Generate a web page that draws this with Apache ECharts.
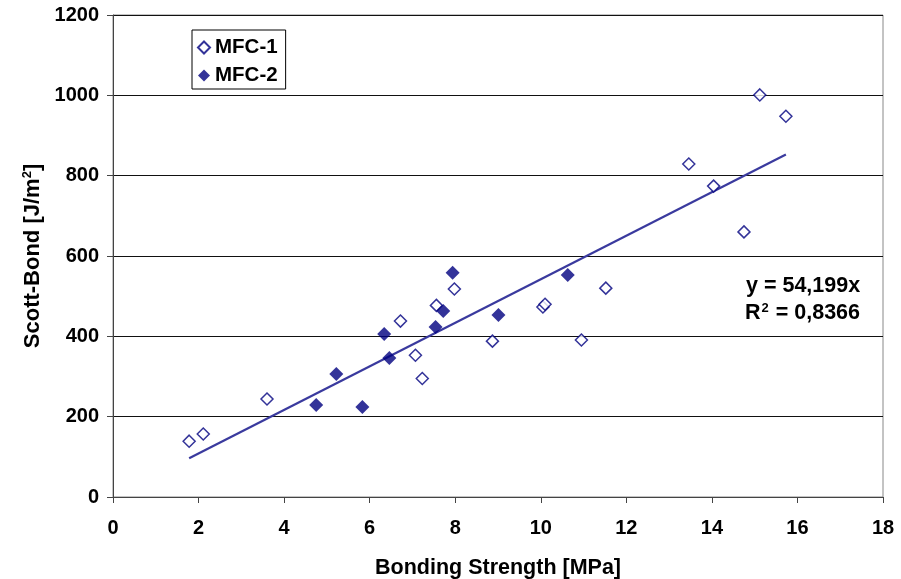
<!DOCTYPE html>
<html>
<head>
<meta charset="utf-8">
<script src="https://cdn.jsdelivr.net/npm/echarts@6/dist/echarts.min.js"></script>
<style>html,body{margin:0;padding:0;background:#fff}#c{width:901px;height:579px}</style>
</head>
<body>
<div id="c"></div>
<script>
const mfc1X = [1.78, 2.11, 3.6, 6.72, 7.07, 7.23, 7.56, 7.98, 8.87, 10.05, 10.1, 10.95, 11.52, 13.46, 14.04, 14.75, 15.12, 15.73];
const mfc1Y = [139, 157, 244, 438, 353, 295, 477, 518, 388, 473, 480, 391, 520, 829, 774, 660, 1001, 948];
const mfc2X = [4.75, 5.22, 5.83, 6.34, 6.46, 7.54, 7.72, 7.94, 9.01, 10.63];
const mfc2Y = [229, 306, 224, 406, 346, 423, 463, 558, 453, 553];
const slope = 54.199;
const slopeText = '54,199';
const r2Text = '0,8366';

const allX = mfc1X.concat(mfc2X);
const xMin = Math.min(...allX), xMax = Math.max(...allX);
const trend = [[xMin, slope * xMin], [xMax, slope * xMax]];

const font = 'Arial, "Liberation Sans", sans-serif';
const tickFont = { fontFamily: font, fontWeight: 'bold', fontSize: 20, color: '#000' };
const chart = echarts.init(document.getElementById('c'));
chart.setOption({
  animation: false,
  backgroundColor: '#fff',
  grid: { left: 113, right: 18, top: 15, bottom: 82, show: true, borderColor: '#888', borderWidth: 1,
          containLabel: false, outerBoundsMode: 'none' },
  xAxis: {
    type: 'value', min: 0, max: 18, interval: 2,
    name: 'Bonding Strength [MPa]', nameLocation: 'middle', nameGap: 60,
    nameTextStyle: { fontFamily: font, fontWeight: 'bold', fontSize: 21.5, color: '#000' },
    axisLine: { lineStyle: { color: '#444', width: 1 } },
    axisTick: { show: true, length: 6, lineStyle: { color: '#444' } },
    axisLabel: Object.assign({ margin: 21, formatter: v => String(v) }, tickFont),
    splitLine: { show: false }
  },
  yAxis: {
    type: 'value', min: 0, max: 1200, interval: 200,
    name: '{a|Scott-Bond [J/m}{s|2}{a|]}', nameLocation: 'middle', nameGap: 68,
    nameTextStyle: {
      rich: {
        a: { fontFamily: font, fontWeight: 'bold', fontSize: 22, color: '#000' },
        s: { fontFamily: font, fontWeight: 'bold', fontSize: 13, color: '#000', verticalAlign: 'top', padding: [0, 0, 10, 0] }
      }
    },
    axisLine: { show: true, lineStyle: { color: '#444', width: 1 } },
    axisTick: { show: true, length: 6, lineStyle: { color: '#444' } },
    axisLabel: Object.assign({ margin: 14, formatter: v => String(v) }, tickFont),
    splitLine: { show: true, lineStyle: { color: '#111', width: 1 } }
  },
  legend: {
    orient: 'vertical', left: 192, top: 30,
    borderColor: '#000', borderWidth: 1, padding: [7, 8, 3, 5],
    itemWidth: 12, itemHeight: 12, itemGap: 7,
    textStyle: { fontFamily: font, fontWeight: 'bold', fontSize: 20.5, color: '#000', lineHeight: 20 },
    data: ['MFC-1', 'MFC-2']
  },
  series: [
    {
      name: 'MFC-1', type: 'scatter', symbol: 'diamond', symbolSize: 12,
      itemStyle: { color: '#fff', borderColor: '#000080', borderWidth: 1.5 },
      data: mfc1X.map((x, i) => [x, mfc1Y[i]]), z: 3
    },
    {
      name: 'MFC-2', type: 'scatter', symbol: 'diamond', symbolSize: 14,
      itemStyle: { color: '#000080' },
      data: mfc2X.map((x, i) => [x, mfc2Y[i]]), z: 4
    },
    {
      name: 'trend', type: 'line', data: trend, showSymbol: false, symbol: 'none',
      lineStyle: { color: '#3a3a9e', width: 2.2 }, z: 2, silent: true
    }
  ],
  graphic: [
    { type: 'text', left: 746, top: 275, style: { text: 'y = ' + slopeText + 'x', font: 'bold 21.5px ' + font, fill: '#000' } },
    { type: 'text', left: 745, top: 302, style: {
        text: '{a|R}{s|2}{a| = ' + r2Text + '}',
        rich: {
          a: { font: 'bold 21.5px ' + font, fill: '#000' },
          s: { font: 'bold 13px ' + font, fill: '#000', verticalAlign: 'top', padding: [0, 1, 10, 1] }
        }
      } }
  ]
});
</script>
</body>
</html>
